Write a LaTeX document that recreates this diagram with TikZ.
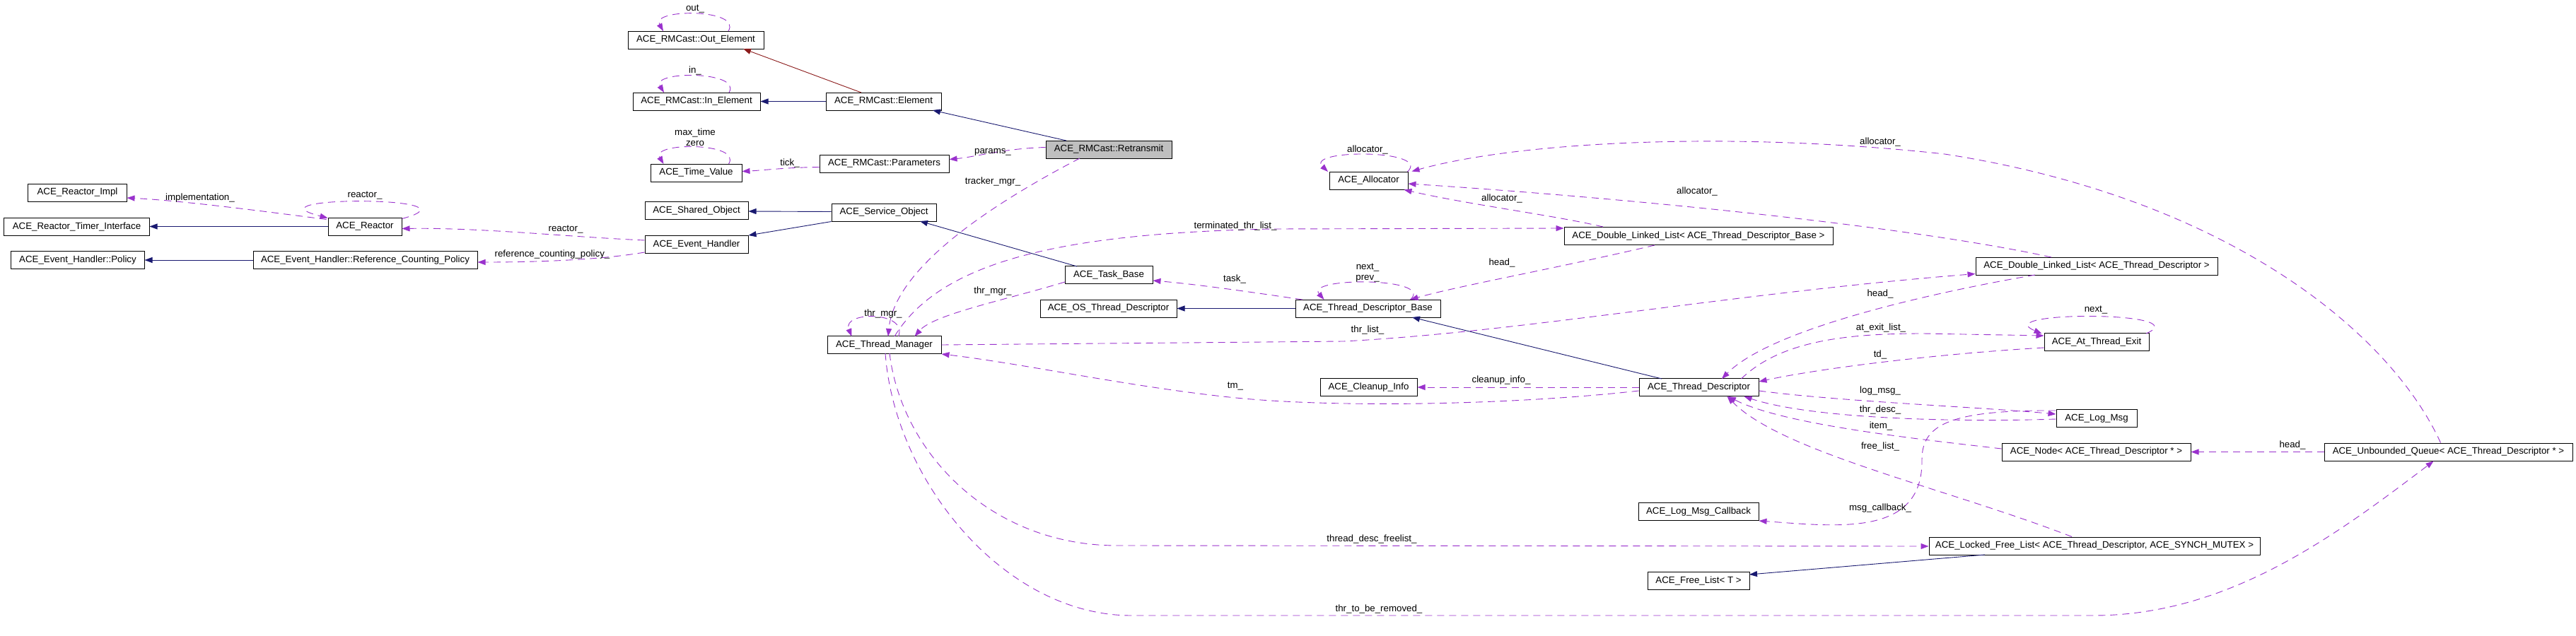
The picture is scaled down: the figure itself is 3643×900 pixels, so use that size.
\documentclass[tikz,border=0pt]{standalone}
\usepackage{fontspec}
\setmainfont{Liberation Sans}
\usetikzlibrary{arrows.meta,calc}
\definecolor{navyc}{HTML}{191970}
\definecolor{purc}{HTML}{9A32CD}
\definecolor{redc}{HTML}{8B1A1A}
\definecolor{grayc}{HTML}{BFBFBF}
\begin{document}
\begin{tikzpicture}[x=1bp,y=-1bp,
  cls/.style={draw=black,line width=1bp,fill=white,minimum height=25bp,inner sep=0pt,font=\fontsize{13.3bp}{15bp}\selectfont},
  lbl/.style={inner sep=0pt,font=\fontsize{13.3bp}{15bp}\selectfont,align=center},
  inh/.style={draw=navyc,line width=0.9bp,-{Triangle[length=11bp,width=8bp]}},
  priv/.style={draw=redc,line width=0.9bp,-{Triangle[length=11bp,width=8bp]}},
  use/.style={draw=purc,line width=0.9bp,dash pattern=on 10bp off 7bp,-{Triangle[length=11bp,width=8bp]}}]
\fill[white] (0,0) rectangle (3643,900);
\useasboundingbox (0,0) rectangle (3643,900);
% classes
\node[cls,minimum width=192bp] (OutEl) at (984,56.5) {ACE\_RMCast::Out\_Element};
\node[cls,minimum width=180bp] (InEl) at (985,143.5) {ACE\_RMCast::In\_Element};
\node[cls,minimum width=163bp] (Elem) at (1249.5,143.5) {ACE\_RMCast::Element};
\node[cls,minimum width=129bp] (TimeVal) at (984.5,244.5) {ACE\_Time\_Value};
\node[cls,minimum width=183bp] (Params) at (1250.5,231.5) {ACE\_RMCast::Parameters};
\node[cls,minimum width=178bp,fill=grayc] (Retr) at (1568,211.5) {ACE\_RMCast::Retransmit};
\node[cls,minimum width=139bp] (RImpl) at (109.5,272.5) {ACE\_Reactor\_Impl};
\node[cls,minimum width=205bp] (RTI) at (108.5,320.5) {ACE\_Reactor\_Timer\_Interface};
\node[cls,minimum width=104bp] (Reactor) at (516,320.5) {ACE\_Reactor};
\node[cls,minimum width=188bp] (Policy) at (110,368) {ACE\_Event\_Handler::Policy};
\node[cls,minimum width=317bp] (RCP) at (516.5,368) {ACE\_Event\_Handler::Reference\_Counting\_Policy};
\node[cls,minimum width=146bp] (Shared) at (985,298) {ACE\_Shared\_Object};
\node[cls,minimum width=148bp] (SvcObj) at (1250,300.5) {ACE\_Service\_Object};
\node[cls,minimum width=146bp] (EvH) at (985,346) {ACE\_Event\_Handler};
\node[cls,minimum width=124bp] (TaskB) at (1568,389) {ACE\_Task\_Base};
\node[cls,minimum width=193bp] (OSTD) at (1567.5,436.5) {ACE\_OS\_Thread\_Descriptor};
\node[cls,minimum width=205bp] (TDB) at (1934.5,436.5) {ACE\_Thread\_Descriptor\_Base};
\node[cls,minimum width=161bp] (TM) at (1250.5,488) {ACE\_Thread\_Manager};
\node[cls,minimum width=111bp] (Alloc) at (1935.5,255.5) {ACE\_Allocator};
\node[cls,minimum width=380bp] (DLLB) at (2402,334) {ACE\_Double\_Linked\_List< ACE\_Thread\_Descriptor\_Base >};
\node[cls,minimum width=342bp] (DLLD) at (2965,376.5) {ACE\_Double\_Linked\_List< ACE\_Thread\_Descriptor >};
\node[cls,minimum width=148bp] (ATE) at (2965,484) {ACE\_At\_Thread\_Exit};
\node[cls,minimum width=169bp] (TD) at (2402.5,548) {ACE\_Thread\_Descriptor};
\node[cls,minimum width=137bp] (Cleanup) at (1935.5,548) {ACE\_Cleanup\_Info};
\node[cls,minimum width=114bp] (LogMsg) at (2965,592) {ACE\_Log\_Msg};
\node[cls,minimum width=267bp] (Node) at (2964.5,639.5) {ACE\_Node< ACE\_Thread\_Descriptor * >};
\node[cls,minimum width=351bp] (UQ) at (3462.5,639.5) {ACE\_Unbounded\_Queue< ACE\_Thread\_Descriptor * >};
\node[cls,minimum width=170bp] (LMC) at (2402,724) {ACE\_Log\_Msg\_Callback};
\node[cls,minimum width=468bp] (LFL) at (2962,772.5) {ACE\_Locked\_Free\_List< ACE\_Thread\_Descriptor, ACE\_SYNCH\_MUTEX >};
\node[cls,minimum width=144bp] (FL) at (2402,822) {ACE\_Free\_List< T >};
% inheritance
\draw[inh] (Elem.west) -- (InEl.east);
\draw[inh] ($(Retr)+(-60,-12.5)$) -- ($(Elem)+(69.5,12.5)$);
\draw[inh] (Reactor.west) -- (RTI.east);
\draw[inh] (RCP.west) -- (Policy.east);
\draw[inh] ($(SvcObj.west)+(0,-1)$) -- ($(Shared.east)+(0,1)$);
\draw[inh] (SvcObj.south west) -- (EvH.north east);
\draw[inh] ($(TaskB)+(-45,-12)$) -- ($(SvcObj)+(51,12.5)$);
\draw[inh] (TDB.west) -- (OSTD.east);
\draw[inh] ($(TD)+(-52.5,-12)$) -- ($(TDB)+(62.5,12.5)$);
\draw[inh] ($(LFL)+(-155,12.5)$) -- ($(FL)+(72,-9)$);
\draw[priv] ($(Elem)+(-31.5,-12.5)$) -- ($(OutEl)+(67,12.5)$);
% usage
\draw[use] ($(OutEl)+(46,-12.5)$) .. controls (1050,12) and (920,12) .. ($(OutEl)+(-46,-12.5)$);
\node[lbl] (lOut) at (983,13) {out\_};
\draw[use] ($(InEl)+(46,-12.5)$) .. controls (1050,100) and (920,100) .. ($(InEl)+(-46,-12.5)$);
\node[lbl] (lIn) at (983,100) {in\_};
\draw[use] ($(TimeVal)+(46,-12.5)$) .. controls (1050,201) and (920,201) .. ($(TimeVal)+(-46,-12.5)$);
\node[lbl] (lMax) at (983,194.5) {max\_time\\zero};
\draw[use] ($(Retr.west)+(0,-3)$) .. controls (1420,210) and (1380,222) .. ($(Params.east)+(0,-6)$);
\node[lbl] (lParams) at (1404,215) {params\_};
\draw[use] ($(Params.west)+(0,5)$) .. controls (1110,237) and (1080,241) .. ($(TimeVal.east)+(0,-2)$);
\node[lbl] (lTick) at (1117,231) {tick\_};
\draw[use] ($(Retr)+(-41,12.5)$) .. controls (1400,290) and (1265,380) .. ($(TM)+(5.5,-12)$);
\node[lbl] (lTrack) at (1404,257) {tracker\_mgr\_};
\draw[use] ($(TaskB)+(-62,10)$) .. controls (1420,425) and (1320,445) .. ($(TM)+(43,-12)$);
\node[lbl] (lThrMgrA) at (1404,412) {thr\_mgr\_};
\draw[use] ($(TM)+(20,-12)$) .. controls (1285,440) and (1190,440) .. ($(TM)+(-46,-12)$);
\node[lbl] (lThrMgrB) at (1249,444) {thr\_mgr\_};
\draw[use] ($(TM)+(14.5,-12)$) .. controls (1330,370) and (1500,330) .. (1800,324) -- ($(DLLB.west)+(0,-11)$);
\node[lbl] (lTerm) at (1747,320) {terminated\_thr\_list\_};
\draw[use] (TM.east) -- (1900,483) .. controls (2150,470) and (2450,415) .. ($(DLLD.south west)+(0,-2)$);
\node[lbl] (lThrList) at (1934,467) {thr\_list\_};
\draw[use] ($(TD.west)+(0,5)$) .. controls (2150,572) and (1900,578) .. (1748,563) .. controls (1600,548) and (1450,515) .. (TM.south east);
\node[lbl] (lTm) at (1747,547) {tm\_};
\draw[use] ($(TM)+(7.5,12)$) .. controls (1275,640) and (1400,772) .. (1580,772) -- ($(LFL.west)+(0,0.5)$);
\node[lbl] (lFree) at (1940,763) {thread\_desc\_freelist\_};
\draw[use] ($(TM)+(1.5,12)$) .. controls (1265,680) and (1420,871) .. (1600,871) -- (2960,871) .. controls (3150,871) and (3300,760) .. ($(UQ.south)+(-21,0)$);
\node[lbl] (lRemoved) at (1950,862) {thr\_to\_be\_removed\_};
\draw[use] ($(TDB)+(60,-12.5)$) .. controls (2030,392) and (1845,392) .. ($(TDB)+(-62,-12.5)$);
\node[lbl] (lNextA) at (1934,386) {next\_\\prev\_};
\draw[use] ($(Alloc)+(55,-12.5)$) .. controls (2025,211) and (1845,211) .. ($(Alloc)+(-57.5,-12.5)$);
\node[lbl] (lAllocA) at (1934,212) {allocator\_};
\draw[use] ($(TDB)+(-92.5,-12.5)$) .. controls (1780,415) and (1700,403) .. ($(TaskB.east)+(0,8)$);
\node[lbl] (lTask) at (1746,395) {task\_};
\draw[use] ($(DLLB)+(-62,13)$) .. controls (2200,380) and (2060,405) .. ($(TDB)+(60,-12.5)$);
\node[lbl] (lHeadA) at (2124,372) {head\_};
\draw[use] ($(DLLB)+(-135,-13)$) .. controls (2200,305) and (2080,290) .. ($(Alloc.south east)+(-6,0)$);
\node[lbl] (lAllocB) at (2124,281) {allocator\_};
\draw[use] ($(DLLD)+(-64,-12.5)$) .. controls (2700,320) and (2300,280) .. ($(Alloc.east)+(0,4.5)$);
\node[lbl] (lAllocC) at (2400,271) {allocator\_};
\draw[use] ($(UQ.north)+(-11,0)$) .. controls (3380,470) and (3150,280) .. (2750,218) .. controls (2450,185) and (2150,200) .. ($(Alloc.north east)+(5,0)$);
\node[lbl] (lAllocD) at (2659,201) {allocator\_};
\draw[use] ($(DLLD)+(-87,12.5)$) .. controls (2700,420) and (2500,470) .. ($(TD)+(32.5,-12)$);
\node[lbl] (lHeadB) at (2659,416) {head\_};
\draw[use] ($(TD)+(60,-12)$) .. controls (2520,480) and (2620,472) .. (2720,472) -- ($(ATE.west)+(0,-9)$);
\node[lbl] (lAtExit) at (2660,464) {at\_exit\_list\_};
\draw[use] ($(ATE.west)+(0,8)$) .. controls (2750,500) and (2580,520) .. ($(TD.east)+(0,-8)$);
\node[lbl] (lTd) at (2659,502) {td\_};
\draw[use] ($(ATE)+(70,-12)$) .. controls (3110,440) and (2810,440) .. ($(ATE.north west)+(-3,1)$);
\node[lbl] (lNextB) at (2964,439) {next\_};
\draw[use] ($(TD.east)+(0,5)$) .. controls (2600,568) and (2800,576) .. ($(LogMsg.west)+(0,-6)$);
\node[lbl] (lLogMsg) at (2659,553) {log\_msg\_};
\draw[use] ($(LogMsg.west)+(0,1)$) .. controls (2760,598) and (2560,592) .. ($(TD.south east)+(-21,0)$);
\node[lbl] (lThrDesc) at (2659,580) {thr\_desc\_};
\draw[use] ($(Node.west)+(0,-4.5)$) .. controls (2700,620) and (2520,600) .. ($(TD.south)+(41.5,0)$);
\node[lbl] (lItem) at (2660,603) {item\_};
\draw[use] ($(LFL.north)+(-32,0)$) .. controls (2750,690) and (2520,640) .. ($(TD.south)+(40,0)$);
\node[lbl] (lFreeList) at (2659,632) {free\_list\_};
\draw[use] ($(LogMsg.north west)+(0,2)$) .. controls (2760,580) and (2718,600) .. (2718,650) .. controls (2720,760) and (2600,745) .. (LMC.south east);
\node[lbl] (lMsgCb) at (2659,719) {msg\_callback\_};
\draw[use] ($(EvH.west)+(0,-6)$) .. controls (800,335) and (680,322) .. ($(Reactor.east)+(0,3)$);
\node[lbl] (lReactorB) at (800,325) {reactor\_};
\draw[use] ($(EvH.south west)+(0,-2)$) .. controls (860,366) and (780,371) .. ($(RCP.east)+(0,3)$);
\node[lbl] (lRcp) at (781,360) {reference\_counting\_policy\_};
\draw[use] ($(Reactor.north east)+(0,2)$) .. controls (690,277) and (340,277) .. ($(Reactor.north west)+(0,1)$);
\node[lbl] (lReactorA) at (516,277) {reactor\_};
\draw[use] ($(Reactor.north west)+(-2,3)$) .. controls (380,300) and (260,284) .. ($(RImpl.east)+(0,7.5)$);
\node[lbl] (lImpl) at (283,280) {implementation\_};
\draw[use] (TD.west) -- (Cleanup.east);
\node[lbl] (lCleanup) at (2123,538) {cleanup\_info\_};
\draw[use] (UQ.west) -- (Node.east);
\node[lbl] (lHeadC) at (3242,630) {head\_};
\end{tikzpicture}
\end{document}
